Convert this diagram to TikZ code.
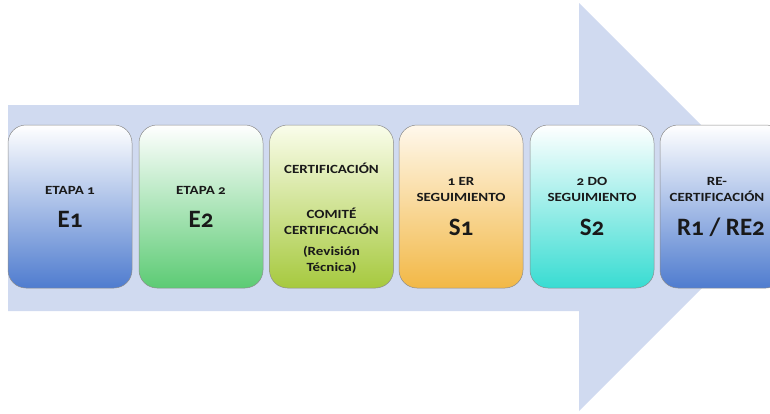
\documentclass[tikz,border=0pt]{standalone}
\usepackage{fontspec}
\setmainfont{Carlito}[Numbers=OldStyle]
\newfontfamily\widefont{Carlito}[Numbers=OldStyle, FakeStretch=1.2]
\definecolor{arrowbg}{HTML}{D0DAF0}
\definecolor{blueend}{HTML}{4F7CCF}
\definecolor{greenend}{HTML}{5CCB74}
\definecolor{limeend}{HTML}{A6C93E}
\definecolor{orangeend}{HTML}{F2B846}
\definecolor{cyanend}{HTML}{38DCD2}
\definecolor{limetop}{HTML}{FAFDEB}
\definecolor{orangetop}{HTML}{FFF8EC}
\begin{document}
\begin{tikzpicture}[x=1pt,y=-1pt]
				\tikzstyle{Stage} = [rounded corners=18pt, draw=black!45, line width=0.5pt, minimum width=124pt, minimum height=163pt, inner sep=0pt]
				\tikzstyle{Small} = [font=\widefont\bfseries\fontsize{12.5}{16}\selectfont, text=black!90, align=center, inner sep=0pt]
				\tikzstyle{Big} = [font=\bfseries\fontsize{25}{28}\selectfont, text=black!90, inner sep=0pt]
				\useasboundingbox (0,0) rectangle (770,413);
				\fill[arrowbg] (8,105) -- (579,105) -- (579,3) -- (783,207) -- (579,411) -- (579,311) -- (8,311) -- cycle;
				\node (1) at (70,206.5) [Stage, top color=white, bottom color=blueend] {};
				\node (2) at (201,206.5) [Stage, top color=white, bottom color=greenend] {};
				\node (3) at (331.5,206.5) [Stage, top color=limetop, bottom color=limeend] {};
				\node (4) at (461,206.5) [Stage, top color=orangetop, bottom color=orangeend] {};
				\node (5) at (592,206.5) [Stage, top color=white, bottom color=cyanend] {};
				\node (6) at (722,206.5) [Stage, top color=white, bottom color=blueend] {};
				\node (1a) at (70,190) [Small] {ETAPA 1};
				\node (1b) at (70,219) [Big] {E1};
				\node (2a) at (201,190) [Small] {ETAPA 2};
				\node (2b) at (201,219) [Big] {E2};
				\node (3a) at (331.5,168) [Small] {CERTIFICACIÓN};
				\node (3b) at (331.5,221.5) [Small] {COMITÉ\\CERTIFICACIÓN};
				\node (3c) at (331.5,260) [Small] {(Revisión\\Técnica)};
				\node (4a) at (461,189) [Small] {1 ER\\SEGUIMIENTO};
				\node (4b) at (461,227) [Big] {S1};
				\node (5a) at (592,189) [Small] {2 DO\\SEGUIMIENTO};
				\node (5b) at (592,227) [Big] {S2};
				\node (6a) at (717,189) [Small] {RE-\\CERTIFICACIÓN};
				\node (6b) at (721,227) [Big] {R1 / RE2};
			\end{tikzpicture}
\end{document}
